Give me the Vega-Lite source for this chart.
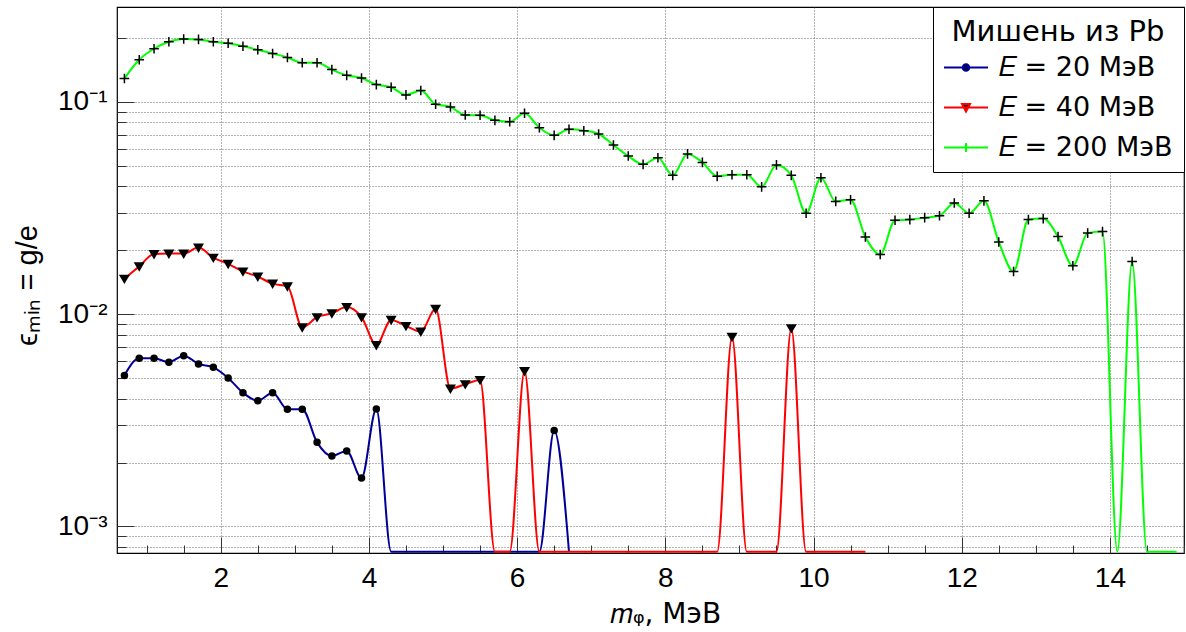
{
  "$schema": "https://vega.github.io/schema/vega-lite/v6.json",
  "width": 1067,
  "height": 546,
  "autosize": {"type": "none"},
  "padding": {"left": 117, "top": 7, "right": 2, "bottom": 79},
  "background": "white",
  "config": {
    "view": {"stroke": "black", "strokeWidth": 1.2},
    "font": "Liberation Sans"
  },
  "data": {
    "values": [
      {"s": "E = 20 МэВ", "m": 0.7, "eps": 0.00515},
      {"s": "E = 20 МэВ", "m": 0.9, "eps": 0.0062},
      {"s": "E = 20 МэВ", "m": 1.1, "eps": 0.0062},
      {"s": "E = 20 МэВ", "m": 1.3, "eps": 0.00594},
      {"s": "E = 20 МэВ", "m": 1.5, "eps": 0.00638},
      {"s": "E = 20 МэВ", "m": 1.7, "eps": 0.00583},
      {"s": "E = 20 МэВ", "m": 1.9, "eps": 0.00562},
      {"s": "E = 20 МэВ", "m": 2.1, "eps": 0.00501},
      {"s": "E = 20 МэВ", "m": 2.3, "eps": 0.00427},
      {"s": "E = 20 МэВ", "m": 2.5, "eps": 0.00391},
      {"s": "E = 20 МэВ", "m": 2.7, "eps": 0.00427},
      {"s": "E = 20 МэВ", "m": 2.9, "eps": 0.00357},
      {"s": "E = 20 МэВ", "m": 3.1, "eps": 0.00357},
      {"s": "E = 20 МэВ", "m": 3.3, "eps": 0.00249},
      {"s": "E = 20 МэВ", "m": 3.5, "eps": 0.00215},
      {"s": "E = 20 МэВ", "m": 3.7, "eps": 0.00227},
      {"s": "E = 20 МэВ", "m": 3.9, "eps": 0.00169},
      {"s": "E = 20 МэВ", "m": 4.1, "eps": 0.00358},
      {"s": "E = 20 МэВ", "m": 4.3, "eps": 0.00076},
      {"s": "E = 20 МэВ", "m": 4.5, "eps": 0.00076},
      {"s": "E = 20 МэВ", "m": 4.7, "eps": 0.00076},
      {"s": "E = 20 МэВ", "m": 4.9, "eps": 0.00076},
      {"s": "E = 20 МэВ", "m": 5.1, "eps": 0.00076},
      {"s": "E = 20 МэВ", "m": 5.3, "eps": 0.00076},
      {"s": "E = 20 МэВ", "m": 5.5, "eps": 0.00076},
      {"s": "E = 20 МэВ", "m": 5.7, "eps": 0.00076},
      {"s": "E = 20 МэВ", "m": 5.9, "eps": 0.00076},
      {"s": "E = 20 МэВ", "m": 6.1, "eps": 0.00076},
      {"s": "E = 20 МэВ", "m": 6.3, "eps": 0.00076},
      {"s": "E = 20 МэВ", "m": 6.5, "eps": 0.00283},
      {"s": "E = 20 МэВ", "m": 6.7, "eps": 0.00076},

      {"s": "E = 40 МэВ", "m": 0.7, "eps": 0.0147},
      {"s": "E = 40 МэВ", "m": 0.9, "eps": 0.0168},
      {"s": "E = 40 МэВ", "m": 1.1, "eps": 0.0192},
      {"s": "E = 40 МэВ", "m": 1.3, "eps": 0.0193},
      {"s": "E = 40 МэВ", "m": 1.5, "eps": 0.0193},
      {"s": "E = 40 МэВ", "m": 1.7, "eps": 0.0206},
      {"s": "E = 40 МэВ", "m": 1.9, "eps": 0.01845},
      {"s": "E = 40 МэВ", "m": 2.1, "eps": 0.01726},
      {"s": "E = 40 МэВ", "m": 2.3, "eps": 0.0159},
      {"s": "E = 40 МэВ", "m": 2.5, "eps": 0.01504},
      {"s": "E = 40 МэВ", "m": 2.7, "eps": 0.01393},
      {"s": "E = 40 МэВ", "m": 2.9, "eps": 0.01354},
      {"s": "E = 40 МэВ", "m": 3.1, "eps": 0.00868},
      {"s": "E = 40 МэВ", "m": 3.3, "eps": 0.00968},
      {"s": "E = 40 МэВ", "m": 3.5, "eps": 0.0101},
      {"s": "E = 40 МэВ", "m": 3.7, "eps": 0.0108},
      {"s": "E = 40 МэВ", "m": 3.9, "eps": 0.00968},
      {"s": "E = 40 МэВ", "m": 4.1, "eps": 0.00716},
      {"s": "E = 40 МэВ", "m": 4.3, "eps": 0.0094},
      {"s": "E = 40 МэВ", "m": 4.5, "eps": 0.0088},
      {"s": "E = 40 МэВ", "m": 4.7, "eps": 0.00828},
      {"s": "E = 40 МэВ", "m": 4.9, "eps": 0.0106},
      {"s": "E = 40 МэВ", "m": 5.1, "eps": 0.00446},
      {"s": "E = 40 МэВ", "m": 5.3, "eps": 0.00468},
      {"s": "E = 40 МэВ", "m": 5.5, "eps": 0.0049},
      {"s": "E = 40 МэВ", "m": 5.7, "eps": 0.00076},
      {"s": "E = 40 МэВ", "m": 5.9, "eps": 0.00076},
      {"s": "E = 40 МэВ", "m": 6.1, "eps": 0.0054},
      {"s": "E = 40 МэВ", "m": 6.3, "eps": 0.00076},
      {"s": "E = 40 МэВ", "m": 6.5, "eps": 0.00076},
      {"s": "E = 40 МэВ", "m": 6.7, "eps": 0.00076},
      {"s": "E = 40 МэВ", "m": 6.9, "eps": 0.00076},
      {"s": "E = 40 МэВ", "m": 7.1, "eps": 0.00076},
      {"s": "E = 40 МэВ", "m": 7.3, "eps": 0.00076},
      {"s": "E = 40 МэВ", "m": 7.5, "eps": 0.00076},
      {"s": "E = 40 МэВ", "m": 7.7, "eps": 0.00076},
      {"s": "E = 40 МэВ", "m": 7.9, "eps": 0.00076},
      {"s": "E = 40 МэВ", "m": 8.1, "eps": 0.00076},
      {"s": "E = 40 МэВ", "m": 8.3, "eps": 0.00076},
      {"s": "E = 40 МэВ", "m": 8.5, "eps": 0.00076},
      {"s": "E = 40 МэВ", "m": 8.7, "eps": 0.00076},
      {"s": "E = 40 МэВ", "m": 8.9, "eps": 0.00783},
      {"s": "E = 40 МэВ", "m": 9.1, "eps": 0.00076},
      {"s": "E = 40 МэВ", "m": 9.3, "eps": 0.00076},
      {"s": "E = 40 МэВ", "m": 9.5, "eps": 0.00076},
      {"s": "E = 40 МэВ", "m": 9.7, "eps": 0.00859},
      {"s": "E = 40 МэВ", "m": 9.9, "eps": 0.00076},
      {"s": "E = 40 МэВ", "m": 10.1, "eps": 0.00076},
      {"s": "E = 40 МэВ", "m": 10.3, "eps": 0.00076},
      {"s": "E = 40 МэВ", "m": 10.5, "eps": 0.00076},
      {"s": "E = 40 МэВ", "m": 10.7, "eps": 0.00076},

      {"s": "E = 200 МэВ", "m": 0.7, "eps": 0.129},
      {"s": "E = 200 МэВ", "m": 0.9, "eps": 0.158},
      {"s": "E = 200 МэВ", "m": 1.1, "eps": 0.178},
      {"s": "E = 200 МэВ", "m": 1.3, "eps": 0.192},
      {"s": "E = 200 МэВ", "m": 1.5, "eps": 0.198},
      {"s": "E = 200 МэВ", "m": 1.7, "eps": 0.197},
      {"s": "E = 200 МэВ", "m": 1.9, "eps": 0.192},
      {"s": "E = 200 МэВ", "m": 2.1, "eps": 0.189},
      {"s": "E = 200 МэВ", "m": 2.3, "eps": 0.183},
      {"s": "E = 200 МэВ", "m": 2.5, "eps": 0.176},
      {"s": "E = 200 МэВ", "m": 2.7, "eps": 0.169},
      {"s": "E = 200 МэВ", "m": 2.9, "eps": 0.162},
      {"s": "E = 200 МэВ", "m": 3.1, "eps": 0.153},
      {"s": "E = 200 МэВ", "m": 3.3, "eps": 0.153},
      {"s": "E = 200 МэВ", "m": 3.5, "eps": 0.142},
      {"s": "E = 200 МэВ", "m": 3.7, "eps": 0.1334},
      {"s": "E = 200 МэВ", "m": 3.9, "eps": 0.1297},
      {"s": "E = 200 МэВ", "m": 4.1, "eps": 0.1207},
      {"s": "E = 200 МэВ", "m": 4.3, "eps": 0.1173},
      {"s": "E = 200 МэВ", "m": 4.5, "eps": 0.1079},
      {"s": "E = 200 МэВ", "m": 4.7, "eps": 0.1131},
      {"s": "E = 200 МэВ", "m": 4.9, "eps": 0.0975},
      {"s": "E = 200 МэВ", "m": 5.1, "eps": 0.0947},
      {"s": "E = 200 МэВ", "m": 5.3, "eps": 0.0868},
      {"s": "E = 200 МэВ", "m": 5.5, "eps": 0.0865},
      {"s": "E = 200 МэВ", "m": 5.7, "eps": 0.0819},
      {"s": "E = 200 МэВ", "m": 5.9, "eps": 0.0807},
      {"s": "E = 200 МэВ", "m": 6.1, "eps": 0.0884},
      {"s": "E = 200 МэВ", "m": 6.3, "eps": 0.0756},
      {"s": "E = 200 МэВ", "m": 6.5, "eps": 0.0696},
      {"s": "E = 200 МэВ", "m": 6.7, "eps": 0.0743},
      {"s": "E = 200 МэВ", "m": 6.9, "eps": 0.0732},
      {"s": "E = 200 МэВ", "m": 7.1, "eps": 0.0706},
      {"s": "E = 200 МэВ", "m": 7.3, "eps": 0.0627},
      {"s": "E = 200 МэВ", "m": 7.5, "eps": 0.0556},
      {"s": "E = 200 МэВ", "m": 7.7, "eps": 0.0508},
      {"s": "E = 200 МэВ", "m": 7.9, "eps": 0.0546},
      {"s": "E = 200 МэВ", "m": 8.1, "eps": 0.0451},
      {"s": "E = 200 МэВ", "m": 8.3, "eps": 0.0569},
      {"s": "E = 200 МэВ", "m": 8.5, "eps": 0.0519},
      {"s": "E = 200 МэВ", "m": 8.7, "eps": 0.0446},
      {"s": "E = 200 МэВ", "m": 8.9, "eps": 0.0454},
      {"s": "E = 200 МэВ", "m": 9.1, "eps": 0.0454},
      {"s": "E = 200 МэВ", "m": 9.3, "eps": 0.0398},
      {"s": "E = 200 МэВ", "m": 9.5, "eps": 0.0505},
      {"s": "E = 200 МэВ", "m": 9.7, "eps": 0.0451},
      {"s": "E = 200 МэВ", "m": 9.9, "eps": 0.0299},
      {"s": "E = 200 МэВ", "m": 10.1, "eps": 0.0439},
      {"s": "E = 200 МэВ", "m": 10.3, "eps": 0.034},
      {"s": "E = 200 МэВ", "m": 10.5, "eps": 0.0346},
      {"s": "E = 200 МэВ", "m": 10.7, "eps": 0.0231},
      {"s": "E = 200 МэВ", "m": 10.9, "eps": 0.0191},
      {"s": "E = 200 МэВ", "m": 11.1, "eps": 0.0277},
      {"s": "E = 200 МэВ", "m": 11.3, "eps": 0.0279},
      {"s": "E = 200 МэВ", "m": 11.5, "eps": 0.0285},
      {"s": "E = 200 МэВ", "m": 11.7, "eps": 0.0291},
      {"s": "E = 200 МэВ", "m": 11.9, "eps": 0.0334},
      {"s": "E = 200 МэВ", "m": 12.1, "eps": 0.0299},
      {"s": "E = 200 МэВ", "m": 12.3, "eps": 0.0342},
      {"s": "E = 200 МэВ", "m": 12.5, "eps": 0.0219},
      {"s": "E = 200 МэВ", "m": 12.7, "eps": 0.0159},
      {"s": "E = 200 МэВ", "m": 12.9, "eps": 0.0279},
      {"s": "E = 200 МэВ", "m": 13.1, "eps": 0.0282},
      {"s": "E = 200 МэВ", "m": 13.3, "eps": 0.0232},
      {"s": "E = 200 МэВ", "m": 13.5, "eps": 0.0169},
      {"s": "E = 200 МэВ", "m": 13.7, "eps": 0.0241},
      {"s": "E = 200 МэВ", "m": 13.9, "eps": 0.0245},
      {"s": "E = 200 МэВ", "m": 14.1, "eps": 0.00076},
      {"s": "E = 200 МэВ", "m": 14.3, "eps": 0.0177},
      {"s": "E = 200 МэВ", "m": 14.5, "eps": 0.00076},
      {"s": "E = 200 МэВ", "m": 14.7, "eps": 0.00076},
      {"s": "E = 200 МэВ", "m": 14.9, "eps": 0.00076}
    ]
  },
  "encoding": {
    "x": {
      "field": "m",
      "type": "quantitative",
      "scale": {"domain": [0.6, 15], "nice": false, "zero": false},
      "axis": {
        "values": [1, 1.5, 2, 2.5, 3, 3.5, 4, 4.5, 5, 5.5, 6, 6.5, 7, 7.5, 8, 8.5, 9, 9.5, 10, 10.5, 11, 11.5, 12, 12.5, 13, 13.5, 14, 14.5, 15],
        "labelExpr": "datum.value % 2 === 0 ? format(datum.value, 'd') : ''",
        "labelFont": "Liberation Sans",
        "labelFontSize": 28,
        "labelColor": "black",
        "labelPadding": 27,
        "labelOverlap": false,
        "labelFlush": false,
        "tickSize": {"condition": {"test": "datum.value % 2 === 0", "value": -16}, "value": -8},
        "tickColor": "#333333",
        "tickWidth": 1,
        "domain": false,
        "grid": true,
        "gridColor": "#555555",
        "gridDash": [1, 2],
        "gridWidth": 1,
        "gridOpacity": {"condition": {"test": "datum.value % 2 === 0", "value": 0.9}, "value": 0},
        "title": "𝑚ᵩ, МэВ",
        "titleFont": "DejaVu Sans",
        "titleFontSize": 28,
        "titleFontWeight": "normal",
        "titleColor": "black",
        "titleBaseline": "alphabetic",
        "titleY": 69,
        "titleX": 548
      }
    },
    "y": {
      "field": "eps",
      "type": "quantitative",
      "scale": {"type": "log", "domain": [0.00075, 0.28], "nice": false},
      "axis": {
        "values": [0.0008, 0.0009, 0.001, 0.002, 0.003, 0.004, 0.005, 0.006, 0.007, 0.008, 0.009, 0.01, 0.02, 0.03, 0.04, 0.05, 0.06, 0.07, 0.08, 0.09, 0.1, 0.2],
        "labelExpr": "datum.value === 0.1 ? '10⁻¹' : datum.value === 0.01 ? '10⁻²' : datum.value === 0.001 ? '10⁻³' : ''",
        "labelFont": "Liberation Sans",
        "labelFontSize": 28,
        "labelColor": "black",
        "labelPadding": 27,
        "labelOverlap": false,
        "labelFlush": false,
        "tickSize": {"condition": {"test": "datum.value === 0.1 || datum.value === 0.01 || datum.value === 0.001", "value": -17}, "value": -9},
        "tickColor": "#333333",
        "tickWidth": 1,
        "domain": false,
        "grid": true,
        "gridColor": "#555555",
        "gridDash": [1, 2],
        "gridWidth": 1,
        "gridOpacity": 0.9,
        "title": "ϵₘᵢₙ = g/e",
        "titleFont": "Liberation Sans",
        "titleFontSize": 29,
        "titleFontWeight": "normal",
        "titleColor": "black",
        "titleAngle": -90,
        "titleBaseline": "middle",
        "titleX": -90,
        "titleY": 278
      }
    }
  },
  "layer": [
    {
      "mark": {"type": "line", "interpolate": "monotone", "strokeWidth": 2, "clip": true},
      "encoding": {
        "color": {
          "field": "s",
          "type": "nominal",
          "scale": {"domain": ["E = 20 МэВ", "E = 40 МэВ", "E = 200 МэВ"], "range": ["#000099", "#ff0000", "#00ff00"]},
          "legend": {
            "title": "Мишень из Pb",
            "orient": "top-right",
            "offset": 0,
            "fillColor": "white",
            "strokeColor": "black",
            "padding": 11,
            "titleFont": "DejaVu Sans",
            "titleFontSize": 29,
            "titleFontWeight": "normal",
            "titleColor": "black",
            "titleAnchor": "middle",
            "titleLimit": 500,
            "titlePadding": 7,
            "labelFont": "DejaVu Sans",
            "labelFontSize": 27,
            "labelColor": "black",
            "labelOffset": 28,
            "labelLimit": 400,
            "rowPadding": 12,
            "symbolSize": 400,
            "symbolStrokeWidth": 2,
            "symbolType": "M-1.35,0H3.05",
            "labelExpr": "replace(datum.label, 'E', '𝐸')",
            "encode": {
              "symbols": {
                "update": {
                  "shape": {"signal": "datum.index === 0 ? 'M-1.35,0H3.05M1.18,0A0.33,0.33 0 1,1 0.52,0A0.33,0.33 0 1,1 1.18,0Z' : datum.index === 1 ? 'M-1.35,0H3.05M0.45,-0.35L1.25,-0.35L0.85,0.4Z' : 'M-1.35,0H3.05M0.85,-0.45V0.45'"},
                  "fill": {"value": "black"}
                }
              }
            }
          }
        }
      }
    },
    {
      "transform": [{"filter": "datum.eps > 0.0008 && datum.s === 'E = 20 МэВ'"}],
      "mark": {"type": "point", "shape": "M0.5,0A0.5,0.5 0 1,1 -0.5,0A0.5,0.5 0 1,1 0.5,0Z", "filled": true, "fill": "black", "stroke": "black", "strokeWidth": 1.5, "size": 144, "opacity": 1, "clip": true}
    },
    {
      "transform": [{"filter": "datum.eps > 0.0008 && datum.s === 'E = 40 МэВ'"}],
      "mark": {"type": "point", "shape": "M-0.7,-0.55L0.7,-0.55L0,0.65Z", "filled": true, "fill": "black", "stroke": "black", "strokeWidth": 1.5, "size": 144, "opacity": 1, "clip": true}
    },
    {
      "transform": [{"filter": "datum.eps > 0.0008 && datum.s === 'E = 200 МэВ'"}],
      "mark": {"type": "point", "shape": "M-0.8,0H0.8M0,-0.8V0.8", "filled": true, "fill": "black", "stroke": "black", "strokeWidth": 1.5, "size": 144, "opacity": 1, "clip": true}
    }
  ]
}
